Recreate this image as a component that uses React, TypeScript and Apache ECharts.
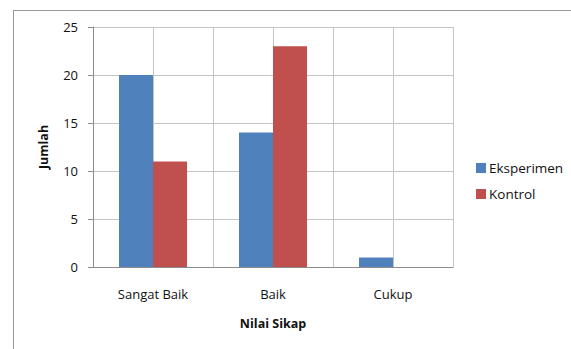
import React, { useEffect, useRef } from "react";
import * as echarts from "echarts";

const categories = ["Sangat Baik", "Baik", "Cukup"];
const eksperimen = [20, 14, 1];
const kontrol = [11, 23, 0];
const seriesNames = ["Eksperimen", "Kontrol"];
const yTicks = { min: 0, max: 25, interval: 5 };

const FONT = "'Open Sans', sans-serif";

export default function App() {
  const ref = useRef<HTMLDivElement>(null);
  useEffect(() => {
    document.body.style.margin = "0";
    const chart = echarts.init(ref.current!, null, { renderer: "svg" });
    chart.setOption({
      animation: false,
      backgroundColor: "#ffffff",
      textStyle: { fontFamily: FONT },
      grid: { left: 93, top: 27, width: 360, height: 240 },
      legend: {
        orient: "vertical",
        left: 471,
        top: 156,
        itemWidth: 10,
        itemHeight: 10,
        itemGap: 12,
        icon: "rect",
        textStyle: { fontFamily: FONT, fontSize: 13.5, color: "#111", lineHeight: 14, padding: [0, 0, 0, -2] },
        data: seriesNames,
      },
      xAxis: [
        {
          type: "category",
          data: categories,
          axisLine: { show: true, lineStyle: { color: "#8c8c8c", width: 1 } },
          axisTick: { show: false },
          axisLabel: { fontFamily: FONT, fontSize: 13, color: "#111", margin: 20 },
          splitLine: { show: false },
          name: "Nilai Sikap",
          nameLocation: "middle",
          nameGap: 50,
          nameTextStyle: { fontFamily: FONT, fontSize: 12.5, fontWeight: "bold", color: "#111" },
        },
        {
          type: "value",
          min: 0,
          max: 6,
          interval: 1,
          position: "bottom",
          axisLine: { show: false },
          axisTick: { show: false },
          axisLabel: { show: false },
          splitLine: { show: true, lineStyle: { color: "#c4c4c4", width: 1 } },
        },
      ],
      yAxis: {
        type: "value",
        min: yTicks.min,
        max: yTicks.max,
        interval: yTicks.interval,
        axisLine: { show: true, lineStyle: { color: "#8c8c8c", width: 1 } },
        axisTick: { show: true, length: 5, lineStyle: { color: "#8c8c8c" } },
        axisLabel: { fontFamily: FONT, fontSize: 13, color: "#111", margin: 15 },
        splitLine: { show: true, lineStyle: { color: "#c4c4c4", width: 1 } },
      },
      graphic: [
        {
          type: "line",
          shape: { x1: 13, y1: 10.5, x2: 571, y2: 10.5 },
          style: { stroke: "#9a9a9a", lineWidth: 1 },
        },
        {
          type: "line",
          shape: { x1: 13.5, y1: 10, x2: 13.5, y2: 349 },
          style: { stroke: "#9a9a9a", lineWidth: 1 },
        },
        {
          type: "text",
          x: 43,
          y: 147,
          rotation: Math.PI / 2,
          style: {
            text: "Jumlah",
            fontFamily: FONT,
            fontSize: 12.5,
            fontWeight: "bold",
            fill: "#111",
            align: "center",
            verticalAlign: "middle",
          },
        },
      ],
      series: [
        {
          name: seriesNames[0],
          type: "bar",
          xAxisIndex: 0,
          data: eksperimen,
          barWidth: 34,
          barGap: "0%",
          itemStyle: { color: "#4f81bd" },
        },
        {
          name: seriesNames[1],
          type: "bar",
          xAxisIndex: 0,
          data: kontrol,
          barWidth: 34,
          barGap: "0%",
          itemStyle: { color: "#c0504d" },
        },
      ],
    });
    return () => chart.dispose();
  }, []);
  return <div ref={ref} style={{ width: 571, height: 349 }} />;
}
